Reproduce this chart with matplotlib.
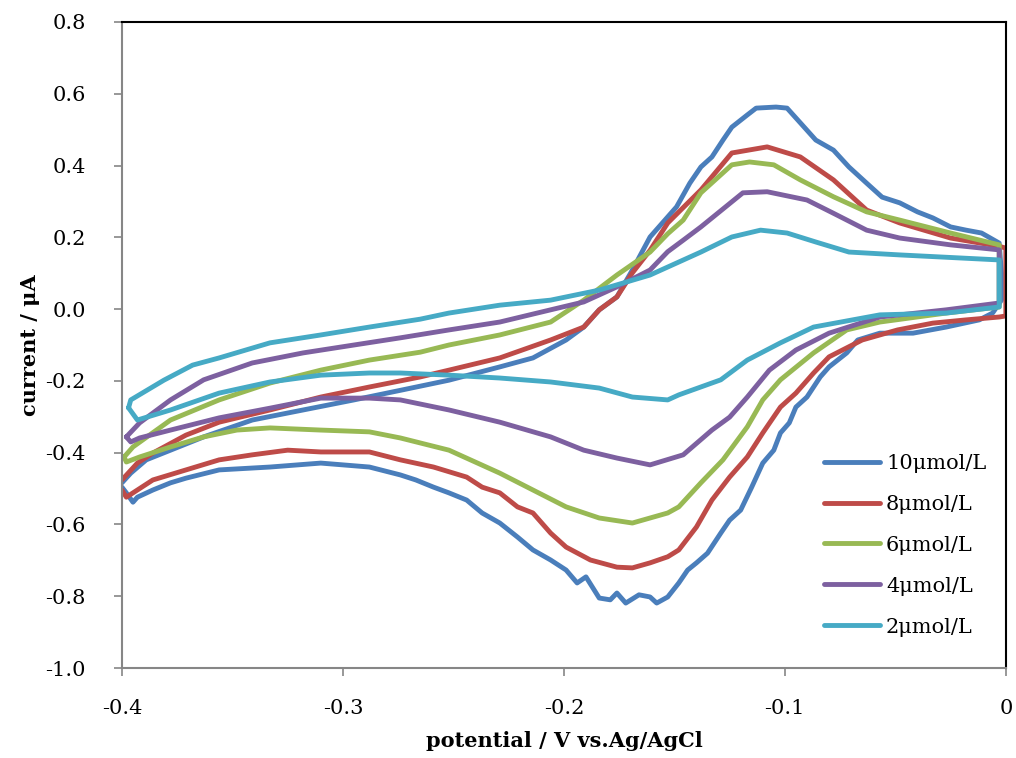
import matplotlib
matplotlib.use('Agg')
import matplotlib.pyplot as plt
from matplotlib.ticker import FormatStrFormatter

plt.rcParams['font.family'] = ['DejaVu Serif']
plt.rcParams['axes.unicode_minus'] = False

# cyclic voltammograms, each loop: anodic branch (left->right) then cathodic branch (right->left)
# 10 umol/L
v10 = [-0.400, -0.396, -0.389, -0.378, -0.363, -0.341, -0.318, -0.295, -0.273, -0.252, -0.229, -0.214,
       -0.199, -0.191, -0.184, -0.176, -0.169, -0.161, -0.157, -0.153, -0.149, -0.143, -0.138, -0.133,
       -0.128, -0.124, -0.117, -0.113, -0.104, -0.099, -0.093, -0.086, -0.078, -0.071, -0.063, -0.056,
       -0.048, -0.040, -0.033, -0.025, -0.018, -0.011, -0.003, -0.002, -0.002,
       -0.006, -0.012, -0.027, -0.042, -0.057, -0.067, -0.072, -0.080, -0.084, -0.090, -0.095, -0.098,
       -0.102, -0.105, -0.110, -0.115, -0.120, -0.125, -0.129, -0.135, -0.140, -0.144, -0.148, -0.153,
       -0.158, -0.161, -0.166, -0.172, -0.176, -0.179, -0.184, -0.190, -0.194, -0.199, -0.206, -0.214,
       -0.221, -0.229, -0.237, -0.244, -0.252, -0.259, -0.267, -0.274, -0.288, -0.310, -0.333, -0.356,
       -0.371, -0.378, -0.386, -0.393, -0.395, -0.398, -0.400]
i10 = [-0.484, -0.457, -0.420, -0.393, -0.356, -0.309, -0.281, -0.253, -0.225, -0.198, -0.161, -0.136,
       -0.086, -0.050, -0.002, 0.034, 0.109, 0.201, 0.229, 0.257, 0.285, 0.351, 0.396, 0.424,
       0.471, 0.507, 0.541, 0.560, 0.563, 0.560, 0.519, 0.471, 0.443, 0.396, 0.351, 0.312,
       0.296, 0.271, 0.254, 0.229, 0.220, 0.212, 0.184, 0.100, 0.025,
       -0.011, -0.030, -0.050, -0.067, -0.067, -0.086, -0.122, -0.161, -0.189, -0.245, -0.273, -0.317,
       -0.345, -0.393, -0.429, -0.496, -0.560, -0.588, -0.624, -0.680, -0.707, -0.727, -0.763, -0.802,
       -0.819, -0.802, -0.796, -0.819, -0.791, -0.810, -0.805, -0.746, -0.763, -0.727, -0.699, -0.671,
       -0.635, -0.596, -0.568, -0.532, -0.512, -0.496, -0.476, -0.462, -0.440, -0.429, -0.440, -0.448,
       -0.471, -0.484, -0.504, -0.524, -0.538, -0.512, -0.496]

# 8 umol/L
v8 = [-0.400, -0.393, -0.386, -0.371, -0.356, -0.333, -0.310, -0.288, -0.265, -0.252, -0.229, -0.206,
      -0.191, -0.184, -0.176, -0.169, -0.161, -0.153, -0.138, -0.124, -0.108, -0.093, -0.078, -0.063,
      -0.048, -0.025, -0.003, 0.000, 0.000,
      -0.003, -0.018, -0.033, -0.049, -0.065, -0.080, -0.087, -0.095, -0.102, -0.110, -0.117, -0.125,
      -0.133, -0.140, -0.148, -0.153, -0.161, -0.169, -0.176, -0.188, -0.199, -0.206, -0.214, -0.221,
      -0.229, -0.237, -0.244, -0.259, -0.274, -0.288, -0.310, -0.325, -0.341, -0.356, -0.371, -0.386,
      -0.393, -0.398, -0.400]
i8 = [-0.476, -0.429, -0.401, -0.351, -0.315, -0.281, -0.245, -0.217, -0.189, -0.170, -0.136, -0.086,
      -0.050, -0.002, 0.034, 0.101, 0.164, 0.240, 0.332, 0.435, 0.452, 0.424, 0.360, 0.276,
      0.240, 0.198, 0.175, 0.170, -0.019,
      -0.022, -0.030, -0.039, -0.058, -0.086, -0.133, -0.178, -0.234, -0.273, -0.345, -0.412, -0.468,
      -0.532, -0.607, -0.671, -0.690, -0.707, -0.721, -0.719, -0.699, -0.663, -0.624, -0.568, -0.551,
      -0.512, -0.496, -0.468, -0.440, -0.420, -0.398, -0.398, -0.393, -0.406, -0.420, -0.448, -0.476,
      -0.504, -0.524, -0.504]

# 6 umol/L
v6 = [-0.399, -0.395, -0.378, -0.356, -0.333, -0.310, -0.288, -0.265, -0.252, -0.229, -0.206, -0.191,
      -0.176, -0.161, -0.153, -0.146, -0.138, -0.124, -0.116, -0.105, -0.093, -0.078, -0.063, -0.048,
      -0.025, -0.003,
      -0.003, -0.027, -0.057, -0.072, -0.087, -0.102, -0.110, -0.117, -0.128, -0.138, -0.148, -0.153,
      -0.169, -0.184, -0.199, -0.214, -0.229, -0.252, -0.274, -0.288, -0.310, -0.333, -0.348, -0.363,
      -0.378, -0.392, -0.398, -0.399]
i6 = [-0.412, -0.384, -0.309, -0.253, -0.206, -0.170, -0.142, -0.120, -0.100, -0.072, -0.036, 0.025,
      0.095, 0.159, 0.210, 0.248, 0.324, 0.402, 0.410, 0.402, 0.360, 0.313, 0.271, 0.248,
      0.212, 0.179,
      0.006, -0.011, -0.036, -0.058, -0.122, -0.197, -0.253, -0.328, -0.420, -0.484, -0.551, -0.568,
      -0.596, -0.582, -0.551, -0.504, -0.457, -0.393, -0.359, -0.342, -0.337, -0.331, -0.337, -0.356,
      -0.384, -0.412, -0.426, -0.412]

# 4 umol/L
v4 = [-0.398, -0.392, -0.378, -0.363, -0.341, -0.318, -0.295, -0.274, -0.252, -0.229, -0.206, -0.191,
      -0.176, -0.161, -0.153, -0.146, -0.138, -0.119, -0.108, -0.090, -0.078, -0.063, -0.048, -0.025,
      -0.003,
      -0.003, -0.027, -0.057, -0.080, -0.095, -0.107, -0.117, -0.125, -0.133, -0.146, -0.161, -0.176,
      -0.191, -0.206, -0.229, -0.252, -0.274, -0.288, -0.310, -0.333, -0.356, -0.378, -0.392, -0.396,
      -0.398]
i4 = [-0.356, -0.317, -0.253, -0.197, -0.150, -0.122, -0.100, -0.080, -0.058, -0.036, -0.002, 0.020,
      0.062, 0.109, 0.160, 0.192, 0.229, 0.324, 0.327, 0.304, 0.267, 0.220, 0.198, 0.179,
      0.165,
      0.017, -0.002, -0.022, -0.067, -0.114, -0.170, -0.245, -0.301, -0.337, -0.406, -0.434, -0.415,
      -0.393, -0.356, -0.315, -0.281, -0.253, -0.248, -0.248, -0.276, -0.303, -0.337, -0.359, -0.370,
      -0.356]

# 2 umol/L
v2 = [-0.397, -0.396, -0.381, -0.368, -0.356, -0.333, -0.310, -0.288, -0.265, -0.252, -0.229, -0.206,
      -0.184, -0.161, -0.138, -0.124, -0.111, -0.099, -0.086, -0.071, -0.048, -0.003,
      -0.003, -0.027, -0.057, -0.087, -0.102, -0.117, -0.129, -0.148, -0.153, -0.169, -0.184, -0.206,
      -0.229, -0.252, -0.274, -0.288, -0.310, -0.333, -0.356, -0.378, -0.393, -0.397]
i2 = [-0.275, -0.253, -0.198, -0.156, -0.136, -0.094, -0.072, -0.050, -0.028, -0.011, 0.011, 0.025,
      0.053, 0.095, 0.159, 0.201, 0.220, 0.212, 0.187, 0.159, 0.151, 0.137,
      0.006, -0.011, -0.016, -0.050, -0.094, -0.142, -0.197, -0.239, -0.253, -0.245, -0.220, -0.203,
      -0.192, -0.184, -0.178, -0.178, -0.184, -0.203, -0.234, -0.281, -0.309, -0.275]

labels = ['10μmol/L', '8μmol/L', '6μmol/L', '4μmol/L', '2μmol/L']
colors = ['#4A7EBB', '#BE4B48', '#98B954', '#7D60A0', '#46AAC5']
series = [(v10, i10), (v8, i8), (v6, i6), (v4, i4), (v2, i2)]

fig = plt.figure(figsize=(10.16, 7.58), dpi=100)
ax = fig.add_axes([0.120, 0.1187, 0.870, 0.8523])

for (v, i), lab, col in zip(series, labels, colors):
    ax.plot(v, i, color=col, lw=3.5, label=lab, solid_joinstyle='round', solid_capstyle='round')

ax.set_xlim(-0.4, 0)
ax.set_ylim(-1.0, 0.8)
ax.set_xticks([-0.4, -0.3, -0.2, -0.1, 0])
ax.set_xticklabels(['-0.4', '-0.3', '-0.2', '-0.1', '0'])
ax.set_yticks([-1.0, -0.8, -0.6, -0.4, -0.2, 0.0, 0.2, 0.4, 0.6, 0.8])
ax.yaxis.set_major_formatter(FormatStrFormatter('%.1f'))

for s in ['left', 'bottom']:
    ax.spines[s].set_color('#868686')
    ax.spines[s].set_linewidth(1.5)
for s in ['top', 'right']:
    ax.spines[s].set_color('black')
    ax.spines[s].set_linewidth(1.5)
ax.tick_params(direction='out', length=6, width=1.2, color='#868686', labelsize=15)
ax.tick_params(axis='x', pad=16)
ax.tick_params(axis='y', pad=20)

ax.set_xlabel('potential / V vs.Ag/AgCl', fontsize=15, fontweight='bold', labelpad=10)
ax.set_ylabel('current / μA', fontsize=15, fontweight='bold', labelpad=4)

leg = ax.legend(loc='center left', bbox_to_anchor=(0.782, 0.19), frameon=False, fontsize=15,
                handlelength=2.7, handletextpad=0.3, labelspacing=1.05, borderpad=0)
for h in leg.get_lines():
    h.set_linewidth(3.5)

fig.savefig('out.png', dpi=100)
